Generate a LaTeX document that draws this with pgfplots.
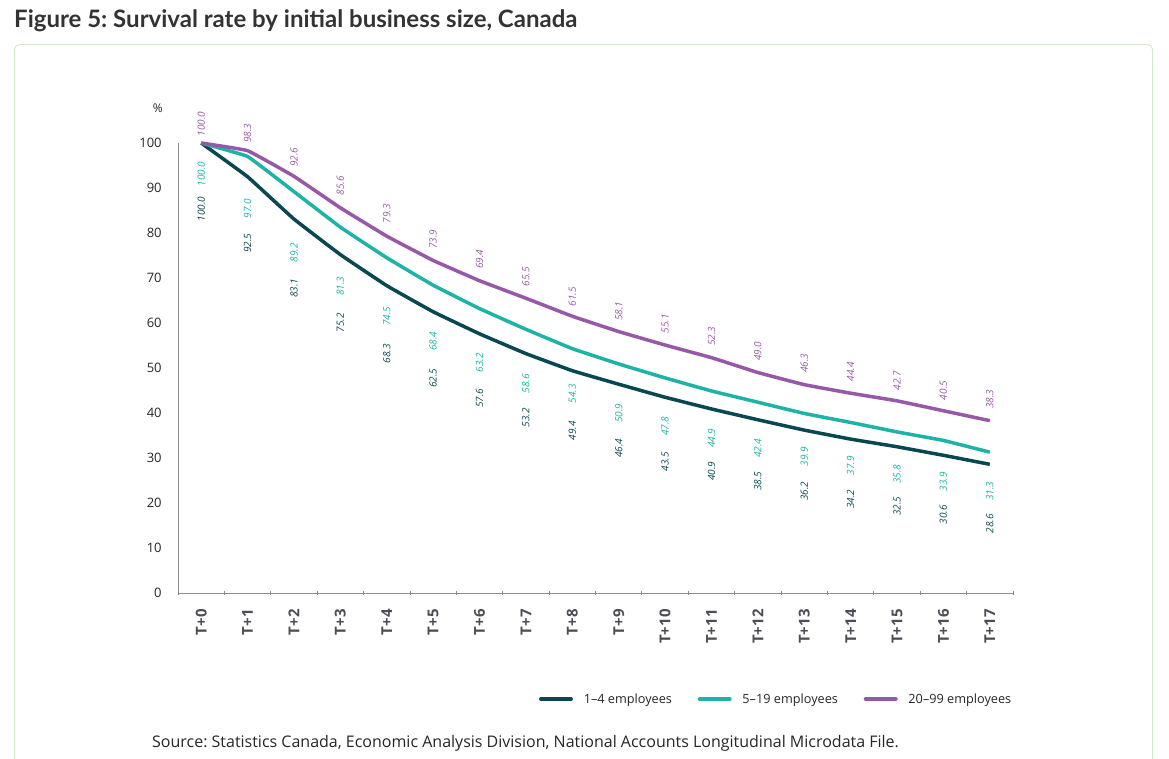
\documentclass[border=0pt]{standalone}
\usepackage{fontspec}
\setmainfont{Open Sans}
\newfontfamily\latofont{Lato}
\usepackage{pgfplots}
\pgfplotsset{compat=1.18}
\usepackage{pgfplotstable}
\frenchspacing
\definecolor{darkc}{HTML}{0A4851}
\definecolor{tealc}{HTML}{1DB3A7}
\definecolor{purpc}{HTML}{9759A7}
\definecolor{boxgreen}{HTML}{D4EBCB}
\definecolor{axgray}{HTML}{8C8C8C}
\definecolor{ticklab}{HTML}{4D4D55}
% x, values (a: 1-4, b: 5-19, c: 20-99), label offsets (sa, sb, sc)
\pgfplotstableread{
x a b c sa sb sc
0 100.0 100.0 100.0 52 17 5
1 92.5 97.0 98.3 55 41 6
2 83.1 89.2 92.6 58 50 8
3 75.2 81.3 85.6 57 48 11
4 68.3 74.5 79.3 57 47 11
5 62.5 68.4 73.9 55 45 10
6 57.6 63.2 69.4 53 43 10
7 53.2 58.6 65.5 53 43 10
8 49.4 54.3 61.5 49 34 8
9 46.4 50.9 58.1 53 38 9
10 43.5 47.8 55.1 53 37 10
11 40.9 44.9 52.3 51 36 10
12 38.5 42.4 49.0 50 35 10
13 36.2 39.9 46.3 50 32 10
14 34.2 37.9 44.4 49 32 10
15 32.5 35.8 42.7 48 31 9
16 30.6 33.9 40.5 48 30 9
17 28.6 31.3 38.3 48 28 10
}\data
\begin{document}
\begin{tikzpicture}
\path[use as bounding box] (0pt,0pt) rectangle (1169pt,-758pt);
\node[anchor=base west, inner sep=0pt, font=\latofont\bfseries\fontsize{24}{28}\selectfont, text=black!80] at (14pt,-27pt) {Figure 5: Survival rate by initial business size, Canada};
\draw[boxgreen, line width=1pt, rounded corners=5pt] (14.5pt,-780pt) -- (14.5pt,-44.5pt) -- (1152.5pt,-44.5pt) -- (1152.5pt,-780pt);
\begin{axis}[
  at={(178pt,-593pt)}, anchor=south west,
  scale only axis, width=835pt, height=450pt,
  xmin=-0.5, xmax=17.5, ymin=0, ymax=100,
  axis x line=bottom, axis y line=left,
  axis line style={axgray, line width=0.9pt, -},
  xtick={0,...,17},
  xticklabels={T+0,T+1,T+2,T+3,T+4,T+5,T+6,T+7,T+8,T+9,T+10,T+11,T+12,T+13,T+14,T+15,T+16,T+17},
  major x tick style={draw=none},
  minor xtick={-0.5,0.5,...,17.5},
  minor tick length=4pt,
  minor x tick style={axgray, line width=0.8pt},
  xticklabel style={rotate=90, anchor=east, inner sep=0pt, font=\bfseries\fontsize{15}{18}\selectfont, text=ticklab},
  xticklabel shift=14pt,
  ytick={0,10,...,100},
  major y tick style={draw=none},
  yticklabel style={anchor=east, inner sep=0pt, font=\fontsize{13}{15}\selectfont, text=black!85},
  yticklabel shift=14pt,
  /pgf/number format/assume math mode=true,
  clip=false,
  point meta=y,
  nodes near coords={\pgfmathprintnumber[fixed,fixed zerofill,precision=1]{\pgfplotspointmeta}},
  legend style={at={(0.43,-0.2356)}, anchor=west, draw=none, inner sep=0pt, font=\fontsize{12.7}{15}\selectfont, text=black!85, legend columns=3, /tikz/every even column/.append style={column sep=22pt}},
  legend cell align=left,
  legend image code/.code={\draw[#1, line width=4pt, line cap=round] (2pt,0pt) -- (32pt,0pt); \path (0pt,0pt) (41pt,0pt);},
]
\addplot[darkc, line width=3.5pt, smooth, tension=0.15, line join=round,
  visualization depends on={\thisrow{sa} \as \sshift},
  every node near coord/.append style={yshift=-\sshift pt, rotate=90, anchor=east, inner sep=0pt, font=\itshape\fontsize{10}{12}\selectfont, text=darkc}]
  table[x=x,y=a]{\data};
\addlegendentry{1–4 employees}
\addplot[tealc, line width=3.5pt, smooth, tension=0.15, line join=round,
  visualization depends on={\thisrow{sb} \as \tshift},
  every node near coord/.append style={yshift=-\tshift pt, rotate=90, anchor=east, inner sep=0pt, font=\itshape\fontsize{10}{12}\selectfont, text=tealc}]
  table[x=x,y=b]{\data};
\addlegendentry{5–19 employees}
\addplot[purpc, line width=3.5pt, smooth, tension=0.15, line join=round,
  visualization depends on={\thisrow{sc} \as \pshift},
  every node near coord/.append style={yshift=\pshift pt, rotate=90, anchor=west, inner sep=0pt, font=\itshape\fontsize{10}{12}\selectfont, text=purpc}]
  table[x=x,y=c]{\data};
\addlegendentry{20–99 employees}
\node[anchor=east, inner sep=0pt, font=\fontsize{12}{14}\selectfont, text=black!85] at ([xshift=-15pt, yshift=35pt]rel axis cs:0,1) {\%};
\end{axis}
\node[anchor=base west, inner sep=0pt, font=\fontsize{16}{19}\selectfont, text=black!85] at (152pt,-747pt) {Source: Statistics Canada, Economic Analysis Division, National Accounts Longitudinal Microdata File.};
\end{tikzpicture}
\end{document}
